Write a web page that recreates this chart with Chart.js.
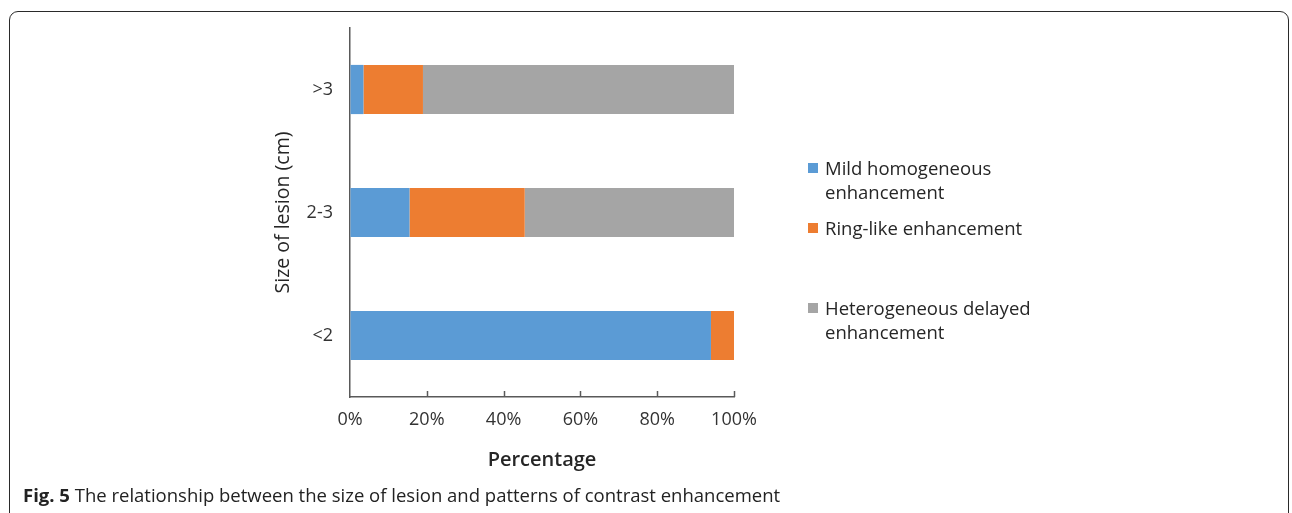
<!DOCTYPE html>
<html>
<head>
<meta charset="utf-8">
<script src="https://cdn.jsdelivr.net/npm/chart.js@4/dist/chart.umd.min.js"></script>
<style>
  html, body { margin: 0; padding: 0; background: #fff; }
  body { width: 1292px; height: 513px; position: relative; overflow: hidden; font-family: "Open Sans", sans-serif; }
  #frame {
    position: absolute; left: 9px; top: 11px; width: 1280px; height: 520px;
    border: 1.5px solid #2a2a2a; border-radius: 9px; box-sizing: border-box;
  }
  #wrap { position: absolute; left: 0; top: 0; width: 1292px; height: 513px; }
  #legend { position: absolute; left: 808px; top: 0; color: #262626; font-size: 18.5px; }
  .item { position: absolute; left: 0; white-space: nowrap; line-height: 24px; }
  .box { position: absolute; left: 0; width: 10px; height: 10px; }
  .txt { position: absolute; left: 17px; }
  #caption { position: absolute; left: 23px; top: 482px; font-size: 18.5px; color: #222; white-space: nowrap; }
</style>
</head>
<body>
<div id="frame"></div>
<div id="wrap"><canvas id="grafico" width="1292" height="513"></canvas></div>
<div id="legend"></div>
<div id="caption"><b>Fig. 5</b> The relationship between the size of lesion and patterns of contrast enhancement</div>
<script>
// ======== DADOS ========
const categorias = [">3", "2-3", "<2"];
const series = ["Mild homogeneous enhancement", "Ring-like enhancement", "Heterogeneous delayed enhancement"];
const suave = [3.5, 15.5, 94];
const anel = [15.5, 30, 6];
const heterogeneo = [81, 54.5, 0];
const cores = ["#5B9BD5", "#ED7D31", "#A5A5A5"];
const ticksX = [0, 20, 40, 60, 80, 100];

// ======== LEGENDA (HTML) ========
const legendaLinhas = [
    { top: 156, linhas: ["Mild homogeneous", "enhancement"] },
    { top: 216, linhas: ["Ring-like enhancement"] },
    { top: 296, linhas: ["Heterogeneous delayed", "enhancement"] }
];
const legenda = document.getElementById("legend");
legendaLinhas.forEach((l, i) => {
    legenda.innerHTML += `
      <div class="item" style="top:${l.top}px">
        <div class="box" style="top:7px;background:${cores[i]}"></div>
        <div class="txt">${l.linhas.join("<br>")}</div>
      </div>`;
});

// ======== TRACINHOS DO EIXO X (para dentro) ========
const tracosX = {
    id: "tracosX",
    afterDraw(chart) {
        const { ctx, scales } = chart;
        const x = scales.x, y0 = x.top;
        ctx.save();
        ctx.strokeStyle = "#595959";
        ctx.lineWidth = 1.5;
        ticksX.slice(1).forEach(v => {
            const px = Math.round(x.getPixelForValue(v)) + 0.5;
            ctx.beginPath();
            ctx.moveTo(px, y0);
            ctx.lineTo(px, y0 - 6);
            ctx.stroke();
        });
        ctx.restore();
    }
};

const fonte = "'Open Sans', sans-serif";
const dados = [suave, anel, heterogeneo];

new Chart(document.getElementById("grafico"), {
    type: "bar",
    data: {
        labels: categorias,
        datasets: series.map((s, i) => ({
            label: s,
            data: dados[i],
            backgroundColor: cores[i],
            barPercentage: 0.4,
            categoryPercentage: 1
        }))
    },
    options: {
        indexAxis: "y",
        responsive: false,
        animation: false,
        layout: { padding: { left: 268, top: 28, right: 558, bottom: 38 } },
        scales: {
            x: {
                stacked: true,
                min: 0,
                max: 100,
                afterBuildTicks: s => { s.ticks = ticksX.map(v => ({ value: v })); },
                afterFit: s => { s.height = 78; },
                grid: { drawOnChartArea: false, drawTicks: false },
                border: { color: "#595959", width: 1.5 },
                ticks: {
                    padding: 12,
                    color: "#333",
                    font: { family: fonte, size: 18 },
                    callback: v => v + "%"
                },
                title: {
                    display: true,
                    text: "Percentage",
                    color: "#262626",
                    font: { family: fonte, size: 20, weight: "600" },
                    padding: { top: 4, bottom: 3 }
                }
            },
            y: {
                stacked: true,
                afterFit: s => { s.width = 82; },
                grid: { drawOnChartArea: false, drawTicks: false },
                border: { color: "#595959", width: 1.5 },
                ticks: {
                    padding: 17,
                    color: "#333",
                    font: { family: fonte, size: 18 }
                },
                title: {
                    display: true,
                    text: "Size of lesion (cm)",
                    color: "#262626",
                    font: { family: fonte, size: 19.5 },
                    padding: { top: 4, bottom: 4 }
                }
            }
        },
        plugins: {
            legend: { display: false },
            tooltip: { enabled: false }
        }
    },
    plugins: [tracosX]
});
</script>
</body>
</html>
